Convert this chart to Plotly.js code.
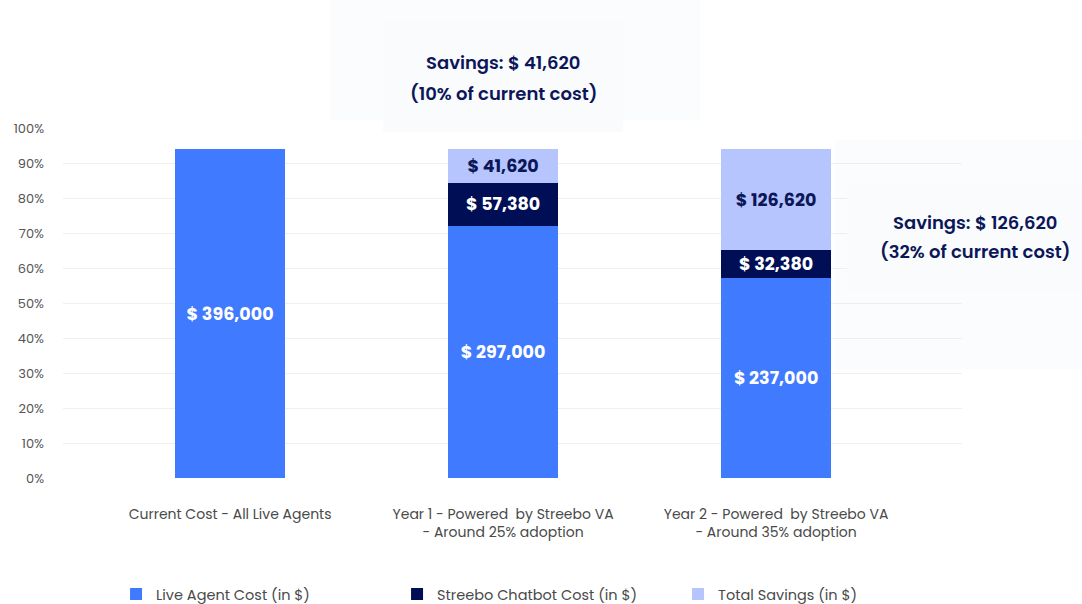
<!DOCTYPE html>
<html>
<head>
<meta charset="utf-8">
<script src="https://cdn.plot.ly/plotly-3.0.1.min.js"></script>
<style>
  html, body { margin: 0; padding: 0; background: #fff; }
  #chart { width: 1082px; height: 604px; }
</style>
</head>
<body>
<div id="chart"></div>
<script>
// ── Data (bar heights read in % of axis) ──────────────────────────────────────
const categories = [
  'Current Cost - All Live Agents',
  'Year 1 - Powered  by Streebo VA<br>- Around 25% adoption',
  'Year 2 - Powered  by Streebo VA<br>- Around 35% adoption'
];
const liveAgentPct = [94, 72, 57.1];
const chatbotPct   = [0, 12.3, 8.0];
const savingsPct   = [0, 9.7, 28.9];

const liveAgentLabels = ['$ 396,000', '$ 297,000', '$ 237,000'];
const chatbotLabels   = ['', '$ 57,380', '$ 32,380'];
const savingsLabels   = ['', '$ 41,620', '$ 126,620'];

const yTicks = [0, 10, 20, 30, 40, 50, 60, 70, 80, 90, 100];

const C_LIVE = '#407aff';
const C_BOT = '#000f55';
const C_SAVE = '#b7c5ff';
const NAVY = '#0b1758';
const FONT = 'Poppins, Inter, "Open Sans", sans-serif';

function barTrace(name, y, labels, color, textColor) {
  return {
    type: 'bar',
    name: name,
    x: [0, 1, 2],
    y: y,
    text: labels,
    textposition: 'inside',
    insidetextanchor: 'middle',
    constraintext: 'none',
    textangle: 0,
    textfont: { family: FONT, size: 17.5, color: textColor, weight: 700 },
    marker: { color: color, line: { width: 0 } },
    width: 0.403,
    hoverinfo: 'skip'
  };
}

const traces = [
  barTrace('Live Agent Cost (in $)', liveAgentPct, liveAgentLabels, C_LIVE, '#ffffff'),
  barTrace('Streebo Chatbot Cost (in $)', chatbotPct, chatbotLabels, C_BOT, '#ffffff'),
  barTrace('Total Savings (in $)', savingsPct, savingsLabels, C_SAVE, NAVY)
];

const noteFont = { family: FONT, size: 18, color: NAVY, weight: 600 };

function note(xref, x, y, text) {
  return { xref: xref, yref: 'paper', x: x, y: y, text: text,
    xanchor: 'center', yanchor: 'middle', showarrow: false, font: noteFont };
}

// soft glow panels behind the savings notes
function glow(x0, x1, y0, y1, fill, layer) {
  return { type: 'rect', xref: 'paper', yref: 'paper', layer: layer,
    x0: x0, x1: x1, y0: y0, y1: y1, fillcolor: fill, line: { width: 0 } };
}

const layout = {
  width: 1082,
  height: 604,
  barmode: 'stack',
  paper_bgcolor: '#ffffff',
  plot_bgcolor: 'rgba(0,0,0,0)',
  margin: { l: 63, r: 120, t: 128, b: 126, autoexpand: false },
  font: { family: FONT, color: '#555555', size: 13 },
  xaxis: {
    range: [-0.612, 2.681],
    tickmode: 'array',
    tickvals: [0, 1, 2],
    ticktext: categories,
    showgrid: false,
    zeroline: false,
    showline: false,
    ticks: '',
    ticklabelstandoff: 26,
    tickfont: { family: FONT, size: 14, color: '#4a4a4a' }
  },
  yaxis: {
    range: [0, 100],
    tickmode: 'array',
    tickvals: yTicks,
    ticktext: yTicks.map(v => v + '%'),
    showgrid: true,
    gridcolor: '#efefef',
    gridwidth: 1,
    zeroline: false,
    showline: false,
    ticks: '',
    ticklabelstandoff: 18,
    tickfont: { family: FONT, size: 13, color: '#555555' }
  },
  showlegend: true,
  legend: {
    orientation: 'h',
    x: 0.059,
    y: -0.286,
    xanchor: 'left',
    yanchor: 'top',
    entrywidth: 236,
    entrywidthmode: 'pixels',
    traceorder: 'normal',
    font: { family: FONT, size: 14.5, color: '#4a4a4a' },
    bgcolor: 'rgba(0,0,0,0)'
  },
  shapes: [
    glow(0.297, 0.709, 1.023, 1.366, 'rgba(246,248,252,0.45)', 'below'),
    glow(0.356, 0.623, 0.989, 1.309, '#fafbfd', 'above'),
    glow(0.859, 1.134, 0.309, 0.966, 'rgba(246,248,252,0.45)', 'below'),
    glow(0.872, 1.134, 0.531, 0.837, '#fafbfd', 'above')
  ],
  annotations: [
    note('x', 1, 1.187, 'Savings: $ 41,620'),
    note('x', 1, 1.098, '(10% of current cost)'),
    note('paper', 1.015, 0.731, 'Savings: $ 126,620'),
    note('paper', 1.015, 0.646, '(32% of current cost)')
  ]
};

Plotly.newPlot('chart', traces, layout, { displayModeBar: false, staticPlot: true });
</script>
</body>
</html>
